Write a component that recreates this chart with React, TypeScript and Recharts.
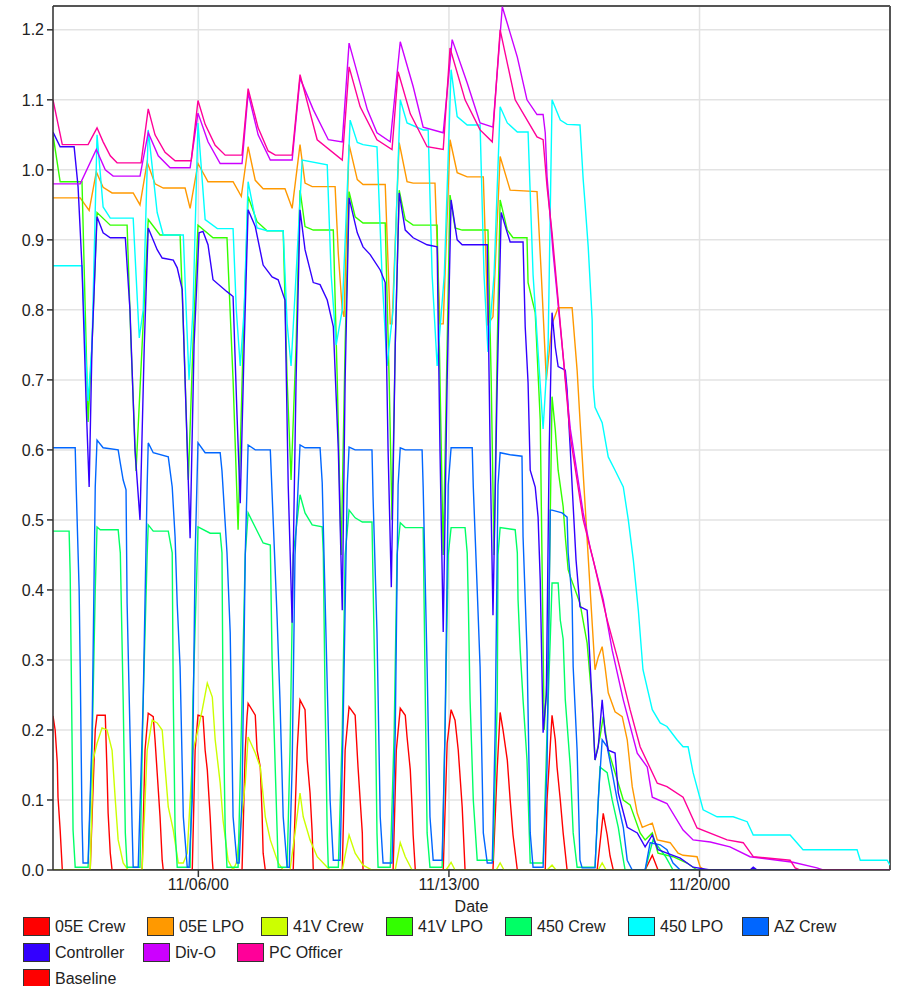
import { LineChart, Line, XAxis, YAxis, CartesianGrid, ReferenceLine, Label } from 'recharts';

type Pt = [number, number];

// x = days since 11/02/00 00:00, y = value
const xTicks = [4, 11, 18];
const xTickLabels = ['11/06/00', '11/13/00', '11/20/00'];
const yTicks = [0, 0.1, 0.2, 0.3, 0.4, 0.5, 0.6, 0.7, 0.8, 0.9, 1.0, 1.1, 1.2];

const crew05E: Pt[] = [
  [-0.06, 0.22], [0.0, 0.2], [0.06, 0.153], [0.08, 0.104], [0.14, 0.057], [0.2, 0], [0.98, 0],
  [1.06, 0.119], [1.12, 0.2], [1.17, 0.221], [1.4, 0.221], [1.45, 0.139], [1.48, 0.081], [1.54, 0.024], [1.59, 0],
  [2.43, 0], [2.51, 0.171], [2.6, 0.224], [2.74, 0.219], [2.79, 0.186], [2.85, 0.139], [2.93, 0.076], [2.99, 0.014], [3.02, 0],
  [3.83, 0], [3.91, 0.171], [3.99, 0.221], [4.13, 0.219], [4.19, 0.171], [4.25, 0.143], [4.33, 0.076], [4.39, 0.014], [4.41, 0],
  [5.22, 0], [5.31, 0.171], [5.36, 0.219], [5.39, 0.238], [5.59, 0.221], [5.64, 0.171], [5.73, 0.147], [5.78, 0.081], [5.81, 0.024], [5.87, 0],
  [6.65, 0], [6.76, 0.171], [6.84, 0.243], [6.98, 0.229], [7.04, 0.157], [7.12, 0.11], [7.18, 0.053], [7.21, 0],
  [8.02, 0], [8.1, 0.171], [8.21, 0.233], [8.38, 0.221], [8.46, 0.147], [8.52, 0.1], [8.58, 0.053], [8.6, 0],
  [9.44, 0], [9.53, 0.171], [9.64, 0.231], [9.78, 0.221], [9.83, 0.19], [9.92, 0.143], [9.97, 0.09], [10.0, 0.05], [10.06, 0],
  [10.84, 0], [10.95, 0.181], [11.06, 0.229], [11.17, 0.214], [11.26, 0.171], [11.37, 0.09], [11.45, 0],
  [12.23, 0], [12.35, 0.147], [12.43, 0.225], [12.51, 0.2], [12.63, 0.157], [12.71, 0.1], [12.79, 0.05], [12.91, 0],
  [13.69, 0], [13.74, 0.1], [13.88, 0.221], [13.97, 0.186], [14.02, 0.147], [14.11, 0.1], [14.19, 0.053], [14.3, 0],
  [15.14, 0], [15.31, 0.081], [15.42, 0.05], [15.5, 0.02], [15.59, 0],
  [16.48, 0], [16.68, 0.021], [16.84, 0], [23.32, 0],
];

const lpo05E: Pt[] = [
  [-0.06, 0.96], [0.7, 0.96], [0.95, 0.942], [1.15, 0.997], [1.34, 0.975], [1.59, 0.967], [2.18, 0.967],
  [2.37, 0.95], [2.57, 1.011], [2.79, 0.98], [3.02, 0.974], [3.63, 0.974], [3.77, 0.945], [3.99, 1.009],
  [4.27, 0.983], [4.97, 0.983], [5.2, 0.962], [5.39, 1.033], [5.59, 0.985], [5.81, 0.973], [6.42, 0.973],
  [6.62, 0.945], [6.84, 1.036], [6.98, 0.981], [7.18, 0.976], [7.82, 0.976], [7.91, 0.88], [8.02, 0.8], [8.07, 0.79],
  [8.21, 1.036], [8.44, 0.986], [8.6, 0.979], [9.22, 0.979], [9.36, 0.78], [9.41, 0.78], [9.61, 1.039],
  [9.83, 0.983], [10.0, 0.981], [10.61, 0.981], [10.75, 0.78], [10.84, 0.78], [11.03, 1.043], [11.23, 0.996],
  [11.51, 0.99], [11.96, 0.99], [12.09, 0.78], [12.23, 0.79], [12.43, 1.019], [12.71, 0.971], [13.46, 0.969],
  [13.58, 0.85], [13.72, 0.7], [13.88, 0.78], [14.05, 0.803], [14.44, 0.803], [14.58, 0.714], [14.66, 0.643],
  [14.8, 0.524], [14.94, 0.404], [15.08, 0.286], [15.17, 0.304], [15.28, 0.319], [15.36, 0.29], [15.45, 0.253],
  [15.64, 0.226], [15.84, 0.219], [15.98, 0.186], [16.12, 0.119], [16.26, 0.081], [16.4, 0.061], [16.68, 0.067],
  [16.82, 0.043], [17.18, 0.039], [17.4, 0.024], [17.54, 0.021], [17.93, 0.019], [18.02, 0.004], [18.16, 0],
  [23.32, 0],
];

const crew41V: Pt[] = [
  [-0.06, 0], [0.98, 0], [1.06, 0.157], [1.17, 0.181], [1.31, 0.203], [1.45, 0.2], [1.59, 0.171], [1.68, 0.1],
  [1.76, 0.043], [1.9, 0.01], [2.04, 0], [2.43, 0], [2.57, 0.171], [2.71, 0.214], [2.85, 0.21], [2.99, 0.2],
  [3.07, 0.147], [3.16, 0.09], [3.3, 0.057], [3.44, 0.01], [3.58, 0.01], [3.69, 0.024], [3.77, 0.1], [3.85, 0.171],
  [3.97, 0.196], [4.11, 0.229], [4.25, 0.267], [4.39, 0.247], [4.47, 0.186], [4.61, 0.124], [4.69, 0.071],
  [4.83, 0.014], [4.97, 0], [5.06, 0.01], [5.17, 0.057], [5.31, 0.124], [5.39, 0.19], [5.59, 0.167], [5.73, 0.147],
  [5.87, 0.076], [6.01, 0.043], [6.23, 0.01], [6.37, 0], [6.56, 0], [6.7, 0.053], [6.84, 0.11], [6.93, 0.076],
  [7.12, 0.043], [7.32, 0.019], [7.6, 0.004], [7.68, 0], [8.02, 0], [8.21, 0.05], [8.38, 0.024], [8.6, 0.007],
  [8.85, 0], [9.5, 0], [9.64, 0.039], [9.78, 0.019], [9.97, 0], [10.92, 0], [11.06, 0.011], [11.17, 0],
  [12.32, 0], [12.43, 0.01], [12.54, 0], [13.74, 0], [13.88, 0.007], [13.99, 0], [15.17, 0], [15.28, 0.01],
  [15.39, 0], [23.32, 0],
];

const lpo41V: Pt[] = [
  [-0.06, 1.05], [0.14, 0.983], [0.75, 0.983], [0.84, 0.8], [0.92, 0.64], [1.03, 0.75], [1.17, 0.939],
  [1.54, 0.921], [2.01, 0.921], [2.12, 0.75], [2.26, 0.57], [2.43, 0.75], [2.6, 0.929], [2.93, 0.907],
  [3.49, 0.907], [3.6, 0.75], [3.72, 0.557], [3.85, 0.75], [3.99, 0.921], [4.41, 0.903], [4.8, 0.903],
  [4.97, 0.7], [5.11, 0.486], [5.25, 0.75], [5.39, 0.962], [5.64, 0.926], [5.92, 0.913], [6.37, 0.913],
  [6.48, 0.7], [6.59, 0.557], [6.73, 0.75], [6.84, 0.971], [6.98, 0.919], [7.21, 0.914], [7.77, 0.914],
  [7.88, 0.7], [7.99, 0.45], [8.1, 0.75], [8.21, 0.969], [8.38, 0.933], [8.6, 0.924], [9.22, 0.924],
  [9.33, 0.7], [9.41, 0.5], [9.5, 0.75], [9.61, 0.971], [9.78, 0.929], [10.0, 0.921], [10.67, 0.921],
  [10.75, 0.7], [10.84, 0.45], [10.95, 0.75], [11.03, 0.964], [11.17, 0.917], [11.37, 0.914], [12.09, 0.914],
  [12.18, 0.7], [12.26, 0.45], [12.35, 0.75], [12.43, 0.957], [12.63, 0.914], [12.79, 0.903], [13.18, 0.903],
  [13.21, 0.839], [13.41, 0.796], [13.55, 0.643], [13.66, 0.2], [13.77, 0.3], [13.88, 0.676], [13.97, 0.629],
  [14.05, 0.571], [14.19, 0.519], [14.25, 0.476], [14.33, 0.429], [14.39, 0.419], [14.66, 0.381], [14.86, 0.324],
  [15.0, 0.239], [15.08, 0.157], [15.22, 0.19], [15.31, 0.219], [15.45, 0.171], [15.73, 0.124], [15.87, 0.1],
  [16.06, 0.093], [16.34, 0.053], [16.48, 0.043], [16.68, 0.053], [16.84, 0.024], [17.26, 0.019], [17.65, 0.01],
  [17.93, 0], [23.32, 0],
];

const crew450: Pt[] = [
  [-0.06, 0.484], [0.39, 0.484], [0.42, 0.424], [0.47, 0.196], [0.5, 0.057], [0.56, 0.004], [0.92, 0.004],
  [1.03, 0.17], [1.12, 0.4], [1.17, 0.49], [1.26, 0.486], [1.76, 0.486], [1.82, 0.453], [1.9, 0.243],
  [1.96, 0.053], [2.01, 0.004], [2.37, 0.004], [2.46, 0.243], [2.57, 0.45], [2.6, 0.493], [2.74, 0.484],
  [3.16, 0.484], [3.27, 0.453], [3.3, 0.243], [3.35, 0.057], [3.41, 0.004], [3.77, 0.004], [3.85, 0.243],
  [3.97, 0.45], [3.99, 0.49], [4.33, 0.481], [4.61, 0.481], [4.66, 0.453], [4.69, 0.243], [4.75, 0.057],
  [4.8, 0.004], [5.11, 0.004], [5.22, 0.243], [5.31, 0.45], [5.39, 0.51], [5.81, 0.467], [6.01, 0.464],
  [6.06, 0.3], [6.09, 0.243], [6.2, 0.057], [6.23, 0.004], [6.48, 0.004], [6.56, 0.17], [6.65, 0.45],
  [6.84, 0.536], [6.98, 0.51], [7.18, 0.493], [7.46, 0.49], [7.49, 0.453], [7.54, 0.243], [7.6, 0.053],
  [7.63, 0.004], [7.91, 0.004], [8.02, 0.196], [8.1, 0.45], [8.21, 0.514], [8.38, 0.503], [8.58, 0.497],
  [8.85, 0.497], [8.94, 0.243], [8.99, 0.053], [9.02, 0.004], [9.36, 0.004], [9.47, 0.196], [9.55, 0.45],
  [9.64, 0.496], [9.78, 0.489], [10.28, 0.489], [10.34, 0.243], [10.39, 0.053], [10.47, 0.004], [10.81, 0.004],
  [10.89, 0.196], [10.98, 0.45], [11.06, 0.489], [11.45, 0.489], [11.51, 0.453], [11.54, 0.386], [11.59, 0.243],
  [11.68, 0.1], [11.79, 0.014], [12.23, 0.014], [12.35, 0.243], [12.37, 0.45], [12.43, 0.489], [12.85, 0.486],
  [12.91, 0.453], [12.93, 0.386], [12.99, 0.314], [13.07, 0.243], [13.18, 0.157], [13.27, 0.01], [13.63, 0.01],
  [13.74, 0.196], [13.83, 0.33], [13.88, 0.41], [14.05, 0.41], [14.11, 0.357], [14.19, 0.33], [14.25, 0.243],
  [14.39, 0.147], [14.47, 0.053], [14.58, 0.004], [15.08, 0.004], [15.22, 0.147], [15.42, 0.139], [15.56, 0.1],
  [15.73, 0.061], [15.84, 0.024], [15.92, 0], [16.48, 0], [16.7, 0.043], [17.04, 0.02], [17.26, 0], [23.32, 0],
];

const lpo450: Pt[] = [
  [-0.06, 0.863], [0.75, 0.863], [0.84, 0.75], [0.92, 0.67], [1.03, 0.75], [1.17, 1.05], [1.34, 0.947],
  [1.54, 0.931], [2.18, 0.931], [2.26, 0.85], [2.35, 0.76], [2.46, 0.8], [2.6, 1.057], [2.85, 0.939],
  [3.02, 0.907], [3.58, 0.907], [3.66, 0.8], [3.74, 0.7], [3.85, 0.8], [3.99, 1.067], [4.19, 0.929],
  [4.53, 0.916], [4.97, 0.916], [5.06, 0.8], [5.17, 0.72], [5.28, 0.8], [5.39, 0.983], [5.64, 0.917],
  [5.92, 0.913], [6.37, 0.913], [6.48, 0.78], [6.59, 0.72], [6.73, 0.85], [6.9, 1.014], [7.6, 1.007],
  [7.71, 0.85], [7.85, 0.75], [8.02, 0.8], [8.24, 1.071], [8.44, 1.039], [8.6, 1.036], [8.99, 1.033],
  [9.13, 0.85], [9.27, 0.72], [9.44, 0.8], [9.64, 1.1], [9.83, 1.067], [10.28, 1.057], [10.42, 1.057],
  [10.53, 0.85], [10.67, 0.72], [10.87, 0.85], [11.06, 1.143], [11.23, 1.076], [11.51, 1.064], [11.87, 1.064],
  [11.98, 0.85], [12.09, 0.74], [12.26, 0.85], [12.43, 1.09], [12.63, 1.067], [12.91, 1.054], [13.21, 1.054],
  [13.35, 0.85], [13.63, 0.63], [13.77, 0.75], [13.88, 1.1], [14.11, 1.071], [14.3, 1.065], [14.66, 1.064],
  [14.75, 0.986], [14.8, 0.953], [14.89, 0.89], [15.0, 0.786], [15.03, 0.69], [15.08, 0.661], [15.28, 0.639],
  [15.45, 0.59], [15.64, 0.571], [15.87, 0.547], [16.01, 0.5], [16.15, 0.443], [16.29, 0.371], [16.42, 0.286],
  [16.68, 0.229], [16.9, 0.21], [17.09, 0.205], [17.37, 0.186], [17.54, 0.176], [17.68, 0.176], [17.82, 0.139],
  [18.1, 0.086], [18.49, 0.076], [18.94, 0.076], [19.33, 0.069], [19.5, 0.05], [20.53, 0.05], [20.89, 0.029],
  [22.4, 0.029], [22.49, 0.014], [23.24, 0.014], [23.32, 0.007],
];

const azCrew: Pt[] = [
  [-0.06, 0.603], [0.56, 0.603], [0.59, 0.543], [0.67, 0.4], [0.7, 0.29], [0.75, 0.071], [0.78, 0.01], [0.92, 0.01],
  [1.03, 0.19], [1.12, 0.547], [1.17, 0.614], [1.34, 0.603], [1.76, 0.6], [1.82, 0.581], [1.9, 0.557], [1.98, 0.543],
  [2.01, 0.381], [2.15, 0.061], [2.18, 0.004], [2.32, 0.004], [2.46, 0.243], [2.57, 0.55], [2.6, 0.61], [2.74, 0.596],
  [3.16, 0.59], [3.27, 0.547], [3.35, 0.476], [3.41, 0.38], [3.49, 0.29], [3.58, 0.076], [3.69, 0.004], [3.74, 0.004],
  [3.83, 0.1], [3.91, 0.45], [3.99, 0.61], [4.19, 0.596], [4.61, 0.596], [4.66, 0.57], [4.8, 0.453], [4.89, 0.339],
  [4.97, 0.076], [5.08, 0.01], [5.14, 0.01], [5.22, 0.1], [5.31, 0.45], [5.39, 0.607], [5.59, 0.6], [6.01, 0.6],
  [6.09, 0.5], [6.2, 0.36], [6.28, 0.243], [6.37, 0.076], [6.48, 0.004], [6.54, 0.004], [6.62, 0.147], [6.7, 0.45],
  [6.84, 0.607], [6.98, 0.603], [7.4, 0.603], [7.46, 0.553], [7.51, 0.45], [7.68, 0.1], [7.77, 0.014], [7.96, 0.014],
  [8.04, 0.196], [8.16, 0.55], [8.21, 0.604], [8.38, 0.6], [8.85, 0.6], [8.88, 0.533], [8.99, 0.339], [9.08, 0.076],
  [9.16, 0.01], [9.41, 0.01], [9.5, 0.196], [9.58, 0.55], [9.64, 0.603], [9.78, 0.6], [10.25, 0.6], [10.28, 0.547],
  [10.39, 0.29], [10.47, 0.076], [10.56, 0.014], [10.81, 0.014], [10.89, 0.196], [10.98, 0.55], [11.06, 0.603],
  [11.65, 0.603], [11.68, 0.547], [11.79, 0.4], [11.87, 0.29], [11.96, 0.053], [12.07, 0.01], [12.21, 0.01],
  [12.29, 0.196], [12.37, 0.55], [12.43, 0.596], [12.71, 0.593], [13.04, 0.591], [13.07, 0.476], [13.18, 0.314],
  [13.27, 0.053], [13.35, 0.004], [13.63, 0.004], [13.74, 0.147], [13.83, 0.514], [13.88, 0.514], [14.16, 0.51],
  [14.3, 0.504], [14.33, 0.453], [14.44, 0.386], [14.47, 0.29], [14.58, 0.171], [14.66, 0.014], [14.72, 0.003],
  [15.08, 0.003], [15.17, 0.1], [15.28, 0.186], [15.42, 0.176], [15.56, 0.139], [15.7, 0.1], [15.87, 0.061],
  [15.98, 0.014], [16.12, 0], [16.48, 0], [16.62, 0.039], [16.9, 0.036], [17.09, 0.029], [17.26, 0.01], [17.46, 0],
  [23.32, 0],
];

const controller: Pt[] = [
  [-0.06, 1.054], [0.14, 1.033], [0.53, 1.033], [0.64, 0.976], [0.75, 0.861], [0.87, 0.66], [0.95, 0.547],
  [1.03, 0.75], [1.17, 0.933], [1.34, 0.91], [1.54, 0.903], [1.96, 0.903], [2.09, 0.8], [2.23, 0.6], [2.37, 0.5],
  [2.49, 0.75], [2.6, 0.917], [2.85, 0.886], [2.99, 0.874], [3.3, 0.871], [3.41, 0.86], [3.55, 0.829], [3.66, 0.65],
  [3.77, 0.474], [3.88, 0.75], [4.02, 0.91], [4.13, 0.912], [4.27, 0.893], [4.41, 0.843], [4.8, 0.826], [4.97, 0.819],
  [5.08, 0.65], [5.17, 0.524], [5.28, 0.75], [5.39, 0.943], [5.59, 0.919], [5.81, 0.864], [6.06, 0.847],
  [6.23, 0.843], [6.42, 0.814], [6.51, 0.55], [6.62, 0.353], [6.73, 0.7], [6.84, 0.943], [6.98, 0.886],
  [7.21, 0.839], [7.4, 0.836], [7.6, 0.814], [7.77, 0.776], [7.91, 0.6], [8.02, 0.371], [8.1, 0.7], [8.21, 0.96],
  [8.44, 0.91], [8.6, 0.89], [8.8, 0.879], [9.08, 0.857], [9.22, 0.839], [9.3, 0.6], [9.39, 0.404], [9.5, 0.75],
  [9.61, 0.967], [9.78, 0.914], [10.0, 0.903], [10.39, 0.893], [10.67, 0.89], [10.75, 0.6], [10.84, 0.34],
  [10.95, 0.7], [11.06, 0.957], [11.23, 0.9], [11.37, 0.893], [12.07, 0.893], [12.15, 0.6], [12.23, 0.364],
  [12.35, 0.7], [12.46, 0.939], [12.63, 0.91], [12.71, 0.897], [13.07, 0.897], [13.13, 0.776], [13.21, 0.696],
  [13.27, 0.571], [13.41, 0.547], [13.49, 0.504], [13.55, 0.414], [13.63, 0.196], [13.72, 0.25], [13.8, 0.6],
  [13.88, 0.796], [13.97, 0.747], [14.05, 0.719], [14.25, 0.714], [14.3, 0.686], [14.39, 0.6], [14.47, 0.52],
  [14.55, 0.443], [14.66, 0.376], [14.86, 0.371], [14.89, 0.347], [15.0, 0.239], [15.08, 0.157], [15.17, 0.176],
  [15.28, 0.243], [15.36, 0.196], [15.45, 0.171], [15.64, 0.167], [15.73, 0.11], [15.98, 0.061], [16.26, 0.053],
  [16.48, 0.033], [16.68, 0.05], [16.84, 0.029], [17.09, 0.024], [17.46, 0.017], [17.82, 0.004], [18.3, 0],
  [19.41, 0], [19.5, 0.004], [19.61, 0], [23.32, 0],
];

const divO: Pt[] = [
  [-0.06, 0.98], [0.7, 0.98], [1.15, 1.029], [1.4, 1.0], [1.62, 0.991], [2.37, 0.991], [2.6, 1.053], [2.88, 1.02],
  [3.21, 1.003], [3.77, 1.003], [3.99, 1.081], [4.27, 1.04], [4.61, 1.009], [5.22, 1.009], [5.39, 1.11],
  [5.67, 1.05], [6.01, 1.014], [6.62, 1.014], [6.84, 1.131], [7.21, 1.086], [7.63, 1.043], [8.02, 1.04],
  [8.21, 1.181], [8.72, 1.086], [8.99, 1.053], [9.36, 1.04], [9.64, 1.183], [10.0, 1.119], [10.28, 1.061],
  [10.84, 1.053], [11.09, 1.186], [11.51, 1.124], [11.87, 1.067], [12.23, 1.061], [12.49, 1.233], [12.91, 1.161],
  [13.18, 1.1], [13.46, 1.079], [13.63, 1.079], [13.69, 1.053], [13.74, 0.99], [13.91, 0.881], [14.11, 0.776],
  [14.39, 0.63], [14.75, 0.51], [14.94, 0.461], [15.31, 0.386], [15.56, 0.314], [15.87, 0.243], [16.26, 0.167],
  [16.54, 0.147], [16.68, 0.104], [17.09, 0.095], [17.54, 0.057], [17.82, 0.043], [18.3, 0.04], [18.85, 0.033],
  [19.41, 0.019], [20.61, 0.011], [21.28, 0.003], [21.45, 0], [23.32, 0],
];

const pcOfficer: Pt[] = [
  [-0.06, 1.1], [0.2, 1.036], [0.92, 1.036], [1.17, 1.06], [1.34, 1.04], [1.54, 1.02], [1.73, 1.01], [2.4, 1.01],
  [2.6, 1.087], [2.79, 1.05], [3.07, 1.025], [3.35, 1.013], [3.8, 1.013], [3.99, 1.099], [4.19, 1.065],
  [4.47, 1.035], [4.75, 1.021], [5.22, 1.021], [5.39, 1.116], [5.67, 1.06], [5.95, 1.027], [6.15, 1.021],
  [6.62, 1.021], [6.84, 1.136], [7.32, 1.043], [8.02, 1.014], [8.21, 1.147], [8.52, 1.09], [8.99, 1.043],
  [9.41, 1.029], [9.58, 1.14], [9.92, 1.08], [10.39, 1.033], [10.84, 1.029], [11.03, 1.174], [11.45, 1.1],
  [11.87, 1.057], [12.21, 1.04], [12.43, 1.2], [12.85, 1.1], [13.46, 1.047], [13.63, 1.043], [13.74, 0.976],
  [13.88, 0.91], [14.05, 0.814], [14.39, 0.619], [14.75, 0.5], [15.03, 0.443], [15.42, 0.357], [15.7, 0.304],
  [16.06, 0.229], [16.34, 0.176], [16.82, 0.124], [17.09, 0.119], [17.54, 0.104], [17.93, 0.06], [18.77, 0.043],
  [19.22, 0.039], [19.5, 0.019], [20.53, 0.014], [20.67, 0.003], [20.8, 0], [23.32, 0],
];

const baseline: Pt[] = [[-0.06, 0], [23.32, 0]];

const series = [
  { name: 'Baseline', pts: baseline, color: '#333333', swatch: '#ff0000' },
  { name: '05E Crew', pts: crew05E, color: '#ff0000', swatch: '#ff0000' },
  { name: '05E LPO', pts: lpo05E, color: '#ff9900', swatch: '#ff9900' },
  { name: '41V Crew', pts: crew41V, color: '#ccff00', swatch: '#ccff00' },
  { name: '41V LPO', pts: lpo41V, color: '#33ff00', swatch: '#33ff00' },
  { name: '450 Crew', pts: crew450, color: '#00ff66', swatch: '#00ff66' },
  { name: '450 LPO', pts: lpo450, color: '#00ffff', swatch: '#00ffff' },
  { name: 'AZ Crew', pts: azCrew, color: '#0066ff', swatch: '#0066ff' },
  { name: 'Controller', pts: controller, color: '#3300ff', swatch: '#3300ff' },
  { name: 'Div-O', pts: divO, color: '#cc00ff', swatch: '#cc00ff' },
  { name: 'PC Officer', pts: pcOfficer, color: '#ff0099', swatch: '#ff0099' },
];

// legend placement (left, top) in px
const legendPos: Record<string, [number, number]> = {
  '05E Crew': [23, 917],
  '05E LPO': [147, 917],
  '41V Crew': [261, 917],
  '41V LPO': [386, 917],
  '450 Crew': [505, 917],
  '450 LPO': [628, 917],
  'AZ Crew': [742, 917],
  Controller: [23, 943],
  'Div-O': [143, 943],
  'PC Officer': [237, 943],
  Baseline: [23, 969],
};

const font = '"Liberation Sans", Arial, sans-serif';

const toRows = (pts: Pt[]) => pts.map(([x, y]) => ({ x, y }));

export default function App() {
  return (
    <div style={{ position: 'absolute', left: 0, top: 0, width: 899, height: 986, background: '#fff', fontFamily: font }}>
      <LineChart width={899} height={920} margin={{ top: 6, right: 9, left: 0, bottom: 0 }}>
        <CartesianGrid stroke="#e3e3e3" strokeWidth={1.5} />
        <XAxis
          type="number"
          dataKey="x"
          domain={[-0.06, 23.32]}
          ticks={xTicks}
          tickFormatter={(v: number) => xTickLabels[xTicks.indexOf(v)] ?? ''}
          allowDataOverflow
          height={50}
          tickSize={7}
          tickMargin={2}
          tick={{ fontSize: 16, fill: '#222', fontFamily: font }}
          stroke="#333"
          strokeWidth={1.5}
        >
          <Label value="Date" position="insideBottom" offset={8} style={{ fontSize: 16, fill: '#222', fontFamily: font }} />
        </XAxis>
        <YAxis
          type="number"
          domain={[0, 1.234]}
          ticks={yTicks}
          tickFormatter={(v: number) => v.toFixed(1)}
          allowDataOverflow
          width={53}
          tickSize={6}
          tickMargin={3}
          tick={{ fontSize: 16, fill: '#222', fontFamily: font }}
          stroke="#333"
          strokeWidth={1.5}
        />
        <ReferenceLine y={1.234} stroke="#555" strokeWidth={2} />
        <ReferenceLine x={23.32} stroke="#555" strokeWidth={2} />
        {series.map((s) => (
          <Line
            key={s.name}
            data={toRows(s.pts)}
            dataKey="y"
            type="linear"
            stroke={s.color}
            strokeWidth={1.4}
            dot={false}
            activeDot={false}
            isAnimationActive={false}
          />
        ))}
      </LineChart>
      {series.map((s) => {
        const [left, top] = legendPos[s.name];
        return (
          <div key={s.name} style={{ position: 'absolute', left, top, height: 19, display: 'flex', alignItems: 'center' }}>
            <div style={{ width: 25, height: 17, background: s.swatch, border: '1px solid #333' }} />
            <span style={{ marginLeft: 5, fontSize: 16, color: '#222', whiteSpace: 'nowrap' }}>{s.name}</span>
          </div>
        );
      })}
    </div>
  );
}
